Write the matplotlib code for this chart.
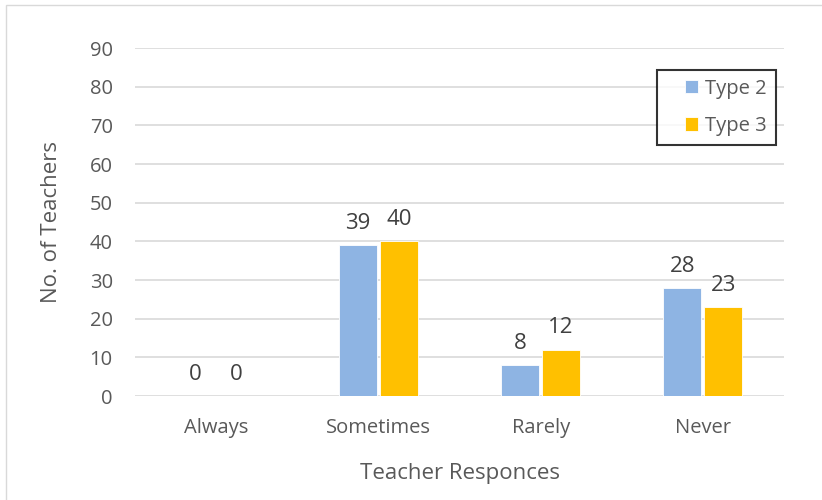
import matplotlib
matplotlib.use('Agg')
import matplotlib.pyplot as plt
from matplotlib.legend_handler import HandlerPatch
import numpy as np

categories = ['Always', 'Sometimes', 'Rarely', 'Never']
type2 = [0, 39, 8, 28]
type3 = [0, 40, 12, 23]
yticks = list(range(0, 100, 10))

plt.rcParams['font.family'] = ['Open Sans', 'DejaVu Sans']
TXT = '#595959'

fig = plt.figure(figsize=(8.22, 5), dpi=100)
# light outer frame, like the spreadsheet chart area
fig.patches.append(plt.Rectangle((6 / 822, -0.01), 1.0, 1 - 5 / 500 + 0.01,
                                 transform=fig.transFigure, fill=False,
                                 edgecolor='#d9d9d9', lw=1))
ax = fig.add_axes([135 / 822, 1 - 396 / 500, (784 - 135) / 822, (396 - 48) / 500])

x = np.arange(len(categories))
w = 0.235
off = 0.1265
b2 = ax.bar(x - off, type2, w, color='#8eb4e3', edgecolor='white', lw=0.6, label='Type 2', zorder=3)
b3 = ax.bar(x + off, type3, w, color='#ffc000', edgecolor='white', lw=0.6, label='Type 3', zorder=3)

for bars, vals in [(b2, type2), (b3, type3)]:
    for rect, v in zip(bars, vals):
        ax.annotate(str(v), (rect.get_x() + rect.get_width() / 2, v),
                    xytext=(0, 8), textcoords='offset points',
                    ha='center', va='bottom', fontsize=16, color='#404040')

ax.set_xlim(-0.5, 3.5)
ax.set_ylim(0, 90)
ax.set_yticks(yticks)
ax.set_xticks(x)
ax.set_xticklabels(categories)
ax.tick_params(length=0, labelsize=14.5, colors=TXT)
ax.tick_params(axis='x', pad=16)
ax.tick_params(axis='y', pad=16)
ax.yaxis.grid(True, color='#d9d9d9', lw=1.2, zorder=0)
for s in ax.spines.values():
    s.set_visible(False)

ax.set_xlabel('Teacher Responces', fontsize=16, color=TXT, labelpad=18)
ax.set_ylabel('No. of Teachers', fontsize=16, color=TXT, labelpad=20)


# small square legend key sitting at the right end of the handle box
def square_key(legend, orig_handle, xdescent, ydescent, width, height, fontsize):
    side = 0.65 * fontsize
    return plt.Rectangle((width - side - xdescent, (height - side) / 2 - ydescent), side, side)


leg = ax.legend(handles=[b2[0], b3[0]], labels=['Type 2', 'Type 3'],
                loc='upper right', bbox_to_anchor=(0.988, 0.937), borderaxespad=0,
                fontsize=14.5, frameon=True, fancybox=False, handlelength=1.6,
                handleheight=0.65, handletextpad=0.35, borderpad=0.45, labelspacing=0.85,
                handler_map={matplotlib.patches.Rectangle: HandlerPatch(patch_func=square_key)})
leg.get_frame().set_edgecolor('black')
leg.get_frame().set_linewidth(1.5)
for t in leg.get_texts():
    t.set_color(TXT)

fig.savefig('out.png', dpi=100)
